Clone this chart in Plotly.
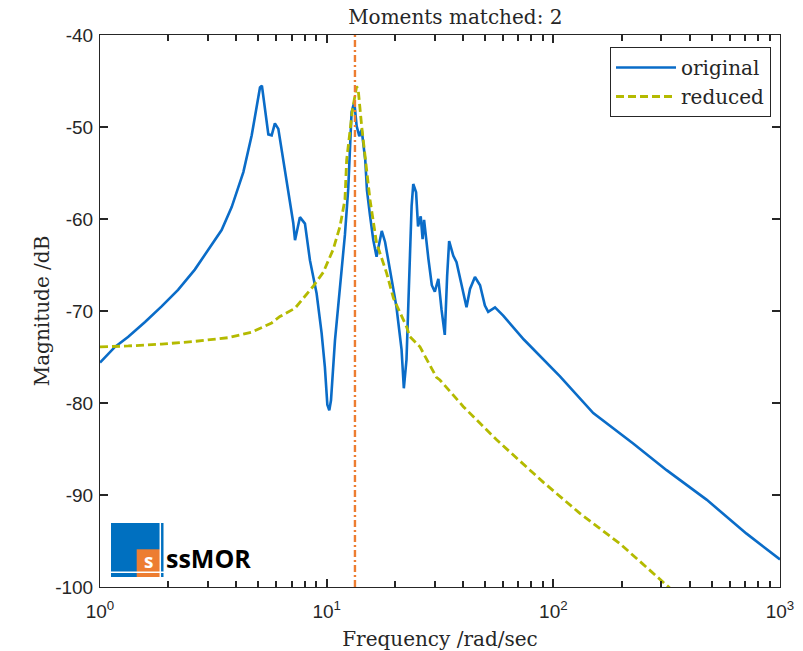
import plotly.graph_objects as go

# ---------------- data ----------------
orig_freq = [1.00, 1.164, 1.333, 1.58, 1.87, 2.21, 2.62, 3.00, 3.44, 3.81,
             4.29, 4.67, 4.91, 5.08, 5.18, 5.25, 5.53, 5.72, 5.91, 6.12,
             6.44, 6.77, 7.12, 7.25, 7.62, 8.02, 8.44, 9.03, 9.50, 9.82,
             10.07, 10.27, 10.45, 10.88, 11.45, 12.04, 12.45, 12.88, 13.24, 13.56,
             13.93, 14.27, 14.8, 15.06, 15.53, 16.06, 16.6, 17.5, 18.1, 19.0,
             20.3, 21.4, 21.9, 22.5, 22.9, 23.3, 23.7, 24.1, 24.8, 25.3,
             26.0, 26.5, 26.9, 28.1, 29.1, 30.0, 31.1, 32.1, 33.2, 34.0,
             34.7, 36.2, 37.4, 39.4, 41.4, 42.9, 45.1, 47.5, 49.9, 51.6,
             55.3, 60.1, 74.1, 107, 150, 225, 316, 474, 712, 1000]
orig_db = [-75.6, -73.9, -72.8, -71.2, -69.5, -67.7, -65.5, -63.4, -61.2, -58.7,
           -54.9, -50.9, -48.0, -45.7, -45.5, -46.6, -50.8, -50.9, -49.6, -50.2,
           -53.5, -57.2, -60.4, -62.3, -59.8, -60.5, -64.5, -68.1, -72.4, -76.1,
           -80.2, -80.8, -79.7, -73.2, -67.2, -61.7, -56.7, -48.4, -47.3, -49.9,
           -51.0, -50.3, -53.6, -56.9, -59.6, -62.3, -64.1, -61.3, -62.5, -65.4,
           -69.5, -74.2, -78.4, -75.3, -69.1, -64.3, -58.6, -56.2, -57.1, -60.8,
           -59.7, -62.2, -60.1, -64.3, -67.2, -67.9, -66.5, -69.8, -72.6, -66.2,
           -62.4, -64.0, -64.7, -67.2, -69.6, -67.6, -66.3, -67.2, -69.4, -70.1,
           -69.6, -70.5, -73.1, -77.1, -81.1, -84.4, -87.3, -90.5, -94.2, -97.0]

red_freq = [1.00, 1.333, 1.87, 2.62, 3.68, 4.67, 5.72, 6.22, 7.25, 8.73,
            9.66, 10.69, 11.45, 12.04, 12.25, 12.6, 13.0, 13.56, 13.77, 14.27,
            14.8, 15.53, 16.6, 18.4, 19.7, 22.5, 23.3, 25.8, 30.5, 31.6,
            40.1, 56.2, 90.2, 131, 197, 318, 340]
red_db = [-73.9, -73.8, -73.6, -73.3, -72.9, -72.3, -71.3, -70.6, -69.7, -67.3,
          -65.8, -63.3, -60.8, -57.9, -53.6, -51.0, -48.1, -45.6, -45.9, -49.9,
          -53.6, -57.9, -62.6, -65.9, -68.6, -71.7, -72.8, -73.9, -77.2, -77.5,
          -80.4, -84.0, -88.6, -92.0, -95.3, -99.9, -100.5]

matched_freq = 13.33
series_names = ["original", "reduced"]
title_text = "Moments matched: 2"
x_label = "Frequency /rad/sec"
y_label = "Magnitude /dB"
x_tick_alias = {"1": "10<sup>0</sup>", "10": "10<sup>1</sup>",
                "100": "10<sup>2</sup>", "1000": "10<sup>3</sup>"}
x_minor_tickvals = [m * 10 ** d for d in range(3) for m in range(2, 10)]
y_tickvals = [-100, -90, -80, -70, -60, -50, -40]
y_ticktext = ["-100", "-90", "-80", "-70", "-60", "-50", "-40"]
y_range = [-100, -40]

# ---------------- styles ----------------
BLUE = "#0a6cc8"
OLIVE = "#b4ba00"
ORANGE = "#ed7d31"
AX = "#262626"
SERIF = "DejaVu Serif"
SANS = "Liberation Sans"

fig = go.Figure()
fig.add_trace(go.Scatter(x=orig_freq, y=orig_db, mode="lines", name=series_names[0],
                         line=dict(color=BLUE, width=2.6)))
fig.add_trace(go.Scatter(x=red_freq, y=red_db, mode="lines", name=series_names[1],
                         line=dict(color=OLIVE, width=2.8, dash="8px,4px")))
fig.add_trace(go.Scatter(x=[matched_freq, matched_freq], y=y_range, mode="lines",
                         showlegend=False,
                         line=dict(color=ORANGE, width=2.4, dash="7px,3px,2px,3px")))
# invisible trace on the overlay axis that carries the minor ticks
fig.add_trace(go.Scatter(x=[1, 1000], y=y_range, mode="lines", xaxis="x2",
                         showlegend=False, hoverinfo="skip",
                         line=dict(color="rgba(0,0,0,0)", width=0)))

axis_common = dict(showline=True, linecolor=AX, linewidth=1, mirror="ticks",
                   ticks="inside", tickcolor=AX, tickwidth=1.5, showgrid=False,
                   zeroline=False, automargin=False)

fig.update_layout(
    xaxis=dict(type="log", range=[0, 3], tickmode="linear", tick0=0, dtick=1,
               labelalias=x_tick_alias, ticklen=8, ticklabeloverflow="allow",
               ticklabelstandoff=7,
               tickfont=dict(family=SANS, size=19, color=AX),
               title=dict(text=x_label, font=dict(family=SERIF, size=20, color=AX),
                          standoff=14),
               **axis_common),
    xaxis2=dict(type="log", range=[0, 3], overlaying="x", side="bottom",
                tickmode="array", tickvals=x_minor_tickvals, showticklabels=False,
                ticks="inside", ticklen=6, tickcolor=AX, tickwidth=1.5, mirror="ticks",
                showline=False, showgrid=False, zeroline=False, automargin=False),
    yaxis=dict(range=y_range, tickvals=y_tickvals, ticktext=y_ticktext, ticklen=8,
               ticklabelstandoff=2,
               tickfont=dict(family=SANS, size=19, color=AX),
               title=dict(text=y_label, font=dict(family=SERIF, size=20, color=AX),
                          standoff=0),
               **axis_common),
)

# logo geometry in paper coords (plot area: x 100..780 px, y 35..587 px)
def px(x):
    return (x - 100) / 680.0

def py(y):
    return (587 - y) / 552.0

shapes = [
    dict(type="rect", x0=px(111), x1=px(163.5), y0=py(577), y1=py(523), fillcolor="#0070c0",
         line=dict(width=0)),
    dict(type="rect", x0=px(136.7), x1=px(160), y0=py(577), y1=py(549.3), fillcolor=ORANGE,
         line=dict(width=0)),
    dict(type="line", x0=px(160.3), x1=px(160.3), y0=py(578), y1=py(522),
         line=dict(color="white", width=1.5)),
    dict(type="line", x0=px(110), x1=px(164), y0=py(572.3), y1=py(572.3),
         line=dict(color="white", width=1.5)),
]
for s in shapes:
    s.update(xref="paper", yref="paper", layer="above")

annotations = [
    dict(text="<b>s</b>", x=px(148), y=py(561), xref="paper", yref="paper",
         xanchor="center", yanchor="middle",
         showarrow=False, font=dict(family="Open Sans", size=19, color="white")),
    dict(text="<b>ssMOR</b>", x=px(164), y=py(558), xref="paper", yref="paper",
         xanchor="left", yanchor="middle", showarrow=False,
         font=dict(family="Open Sans", size=25, color="black")),
]

fig.update_layout(
    width=803, height=651,
    margin=dict(l=100, r=23, t=35, b=64),
    plot_bgcolor="white", paper_bgcolor="white",
    title=dict(text=title_text, x=0.567, xanchor="center", y=0.974, yanchor="middle",
               font=dict(family=SERIF, size=20, color=AX)),
    legend=dict(x=px(771), xanchor="right", y=py(47), yanchor="top",
                bgcolor="white", bordercolor=AX, borderwidth=1,
                font=dict(family=SERIF, size=20, color=AX),
                itemwidth=60, tracegroupgap=0),
    shapes=shapes, annotations=annotations,
    showlegend=True,
)

fig.write_html("out.html", config={"displayModeBar": False},
               post_script="document.body.style.margin='0';document.body.style.padding='0';")
